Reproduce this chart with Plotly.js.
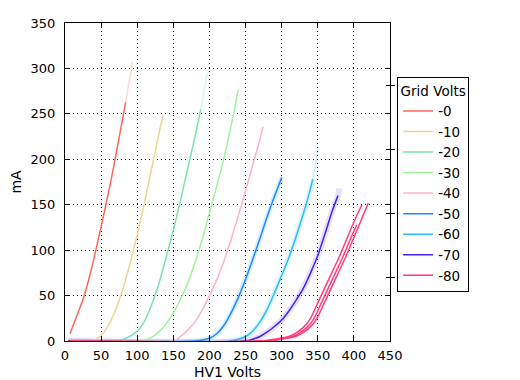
<!DOCTYPE html>
<html>
<head>
<meta charset="utf-8">
<script src="https://cdn.plot.ly/plotly-3.0.1.min.js"></script>
<style>html,body{margin:0;padding:0;background:#fff;}#chart{width:520px;height:380px;}</style>
</head>
<body>
<div id="chart"></div>
<script>
// Grid voltage labels and colours
const gridLabels = ["-0", "-10", "-20", "-30", "-40", "-50", "-60", "-70", "-80"];
const gridColors = ["#ff6659", "#ecd795", "#78e4aa", "#9ef59a", "#ffb3c6", "#1a8cff", "#28bff5", "#4b22e8", "#ff3b7f"];

// HV1 Volts (x) and mA (y) per grid voltage
const v0 = [7, 15, 25, 35, 45, 55, 65, 75, 84];
const i0 = [8, 25, 46, 74, 108, 144, 182, 224, 263];
const v0ext = [84, 89, 93.5];
const i0ext = [263, 286, 307];

const v10 = [5, 30, 40, 50, 60, 70, 80, 90, 100, 110, 120, 130, 136];
const i10 = [0, 0, 1, 6, 17, 34, 57, 85, 117, 152, 190, 228, 249];

const v20 = [5, 70, 85, 100, 110, 120, 130, 140, 150, 160, 170, 180, 188];
const i20 = [0, 0, 3, 11, 22, 40, 63, 92, 122, 155, 190, 225, 255];
const v20ext = [188, 192, 197];
const i20ext = [255, 273, 295];

const v30 = [5, 105, 120, 130, 140, 150, 160, 170, 180, 190, 200, 210, 220, 230, 240];
const i30 = [0, 0, 4, 10, 19, 31, 46, 64, 86, 112, 141, 170, 201, 237, 277];

const v40 = [5, 150, 160, 170, 180, 190, 200, 210, 220, 230, 240, 250, 260, 270, 274];
const i40 = [0, 0, 5, 12, 21, 34, 50, 67, 88, 112, 138, 165, 194, 222, 236];

const v50 = [5, 180, 200, 210, 220, 230, 240, 250, 260, 270, 280, 290, 300];
const i50 = [0, 0, 3, 8, 17, 31, 48, 68, 90, 113, 137, 159, 180];

const v60 = [5, 230, 250, 260, 270, 280, 290, 300, 310, 320, 330, 340, 343];
const i60 = [0, 0, 5, 11, 21, 35, 53, 72, 92, 115, 140, 168, 178];
const v60ext = [343, 347, 351];
const i60ext = [178, 195, 213];

const v70 = [5, 250, 260, 270, 280, 290, 300, 310, 320, 330, 340, 350, 360, 370, 378];
const i70 = [0, 0, 2, 5, 10, 16, 23, 33, 45, 58, 75, 94, 118, 143, 160];
const v70ext = [378, 380];
const i70ext = [160, 168];

const v80a = [5, 270, 290, 310, 320, 330, 340, 350, 360, 370, 380, 390, 400, 411];
const i80a = [0, 0, 2, 5, 9, 15, 25, 42, 59, 76, 93, 112, 131, 150];
const v80b = [5, 275, 295, 315, 325, 335, 345, 355, 365, 375, 385, 395, 404];
const i80b = [0, 0, 2, 5, 9, 15, 25, 42, 59, 76, 93, 112, 128];
const v80c = [5, 279, 299, 319, 329, 339, 349, 359, 369, 379, 389, 399, 409, 420];
const i80c = [0, 0, 2, 5, 9, 15, 25, 42, 59, 76, 93, 112, 131, 152];

// Right-hand (unlabelled) axis tick positions
const rightTicks = [70.2, 140.4, 210.6, 280.8];

const xTicks = [0, 50, 100, 150, 200, 250, 300, 350, 400, 450];
const yTicks = [0, 50, 100, 150, 200, 250, 300, 350];

function line(x, y, color, name, opts) {
  opts = opts || {};
  return {
    type: "scatter", mode: "lines", x: x, y: y,
    name: name, legendgroup: name,
    showlegend: !!opts.legend,
    opacity: opts.opacity == null ? 1 : opts.opacity,
    line: {color: color, width: opts.width || 1.5, shape: "spline", smoothing: 0.8},
    hoverinfo: "skip"
  };
}

const traces = [];
// halos / faded parts first
traces.push(line(v0ext, i0ext, gridColors[0], gridLabels[0], {opacity: 0.25}));
traces.push(line(v20ext, i20ext, gridColors[2], gridLabels[2], {opacity: 0.3}));
traces.push(line(v50, i50, gridColors[5], gridLabels[5], {opacity: 0.16, width: 5}));
traces.push(line(v60, i60, gridColors[6], gridLabels[6], {opacity: 0.16, width: 5}));
traces.push(line(v60ext, i60ext, gridColors[6], gridLabels[6], {opacity: 0.25}));
traces.push(line(v70.concat(v70ext.slice(1)), i70.concat(i70ext.slice(1)), gridColors[7], gridLabels[7], {opacity: 0.14, width: 6}));

// main curves
const mains = [[v0, i0], [v10, i10], [v20, i20], [v30, i30], [v40, i40], [v50, i50], [v60, i60], [v70, i70], [v80a, i80a]];
mains.forEach((d, k) => traces.push(line(d[0], d[1], gridColors[k], gridLabels[k], {legend: true})));
traces.push(line(v80b, i80b, gridColors[8], gridLabels[8]));
traces.push(line(v80c, i80c, gridColors[8], gridLabels[8]));

// dummy traces for the right-hand tick axes
traces.push({type: "scatter", x: [null], y: [null], yaxis: "y2", showlegend: false, hoverinfo: "skip"});
traces.push({type: "scatter", x: [null], y: [null], yaxis: "y3", showlegend: false, hoverinfo: "skip"});

const font = {family: "DejaVu Sans", size: 13, color: "#000"};
const titleFont = {family: "DejaVu Sans", size: 14, color: "#000"};
const gridStyle = {showgrid: true, gridcolor: "#000", gridwidth: 1, griddash: "1px,3px"};

const layout = {
  width: 520, height: 380,
  margin: {l: 65, r: 130, t: 23, b: 39},
  paper_bgcolor: "#fff", plot_bgcolor: "#fff",
  font: font,
  showlegend: true,
  xaxis: Object.assign({
    range: [0, 450], tickvals: xTicks, ticktext: xTicks.map(String),
    ticks: "inside", ticklen: 5, tickcolor: "#000", mirror: "ticks",
    showline: true, linecolor: "#000", linewidth: 1, zeroline: false,
    title: {text: "HV1 Volts", font: titleFont, standoff: 12},
    tickfont: font, ticklabelstandoff: 2
  }, gridStyle),
  yaxis: Object.assign({
    range: [0, 350], tickvals: yTicks, ticktext: yTicks.map(String),
    ticks: "inside", ticklen: 5, tickcolor: "#000", mirror: "ticks",
    showline: true, linecolor: "#000", linewidth: 1, zeroline: false,
    title: {text: "mA", font: titleFont, standoff: 5},
    tickfont: font, ticklabelstandoff: 6
  }, gridStyle),
  yaxis2: {
    overlaying: "y", side: "right", range: [0, 350], tickvals: rightTicks,
    showticklabels: false, ticks: "outside", ticklen: 4, tickcolor: "#000",
    showgrid: false, zeroline: false, showline: false
  },
  yaxis3: {
    overlaying: "y", side: "right", range: [0, 350], tickvals: rightTicks,
    showticklabels: false, ticks: "inside", ticklen: 4, tickcolor: "#000",
    showgrid: false, zeroline: false, showline: false
  },
  legend: {
    x: 1.022, y: 0.83, xanchor: "left", yanchor: "top",
    bgcolor: "#fff", bordercolor: "#000", borderwidth: 1,
    font: {family: "DejaVu Sans", size: 13.5, color: "#000"},
    title: {text: "Grid Volts", side: "top center", font: {family: "DejaVu Sans", size: 13.5, color: "#000"}},
    tracegroupgap: 0
  }
};

Plotly.newPlot("chart", traces, layout, {displayModeBar: false, staticPlot: true});
</script>
</body>
</html>
